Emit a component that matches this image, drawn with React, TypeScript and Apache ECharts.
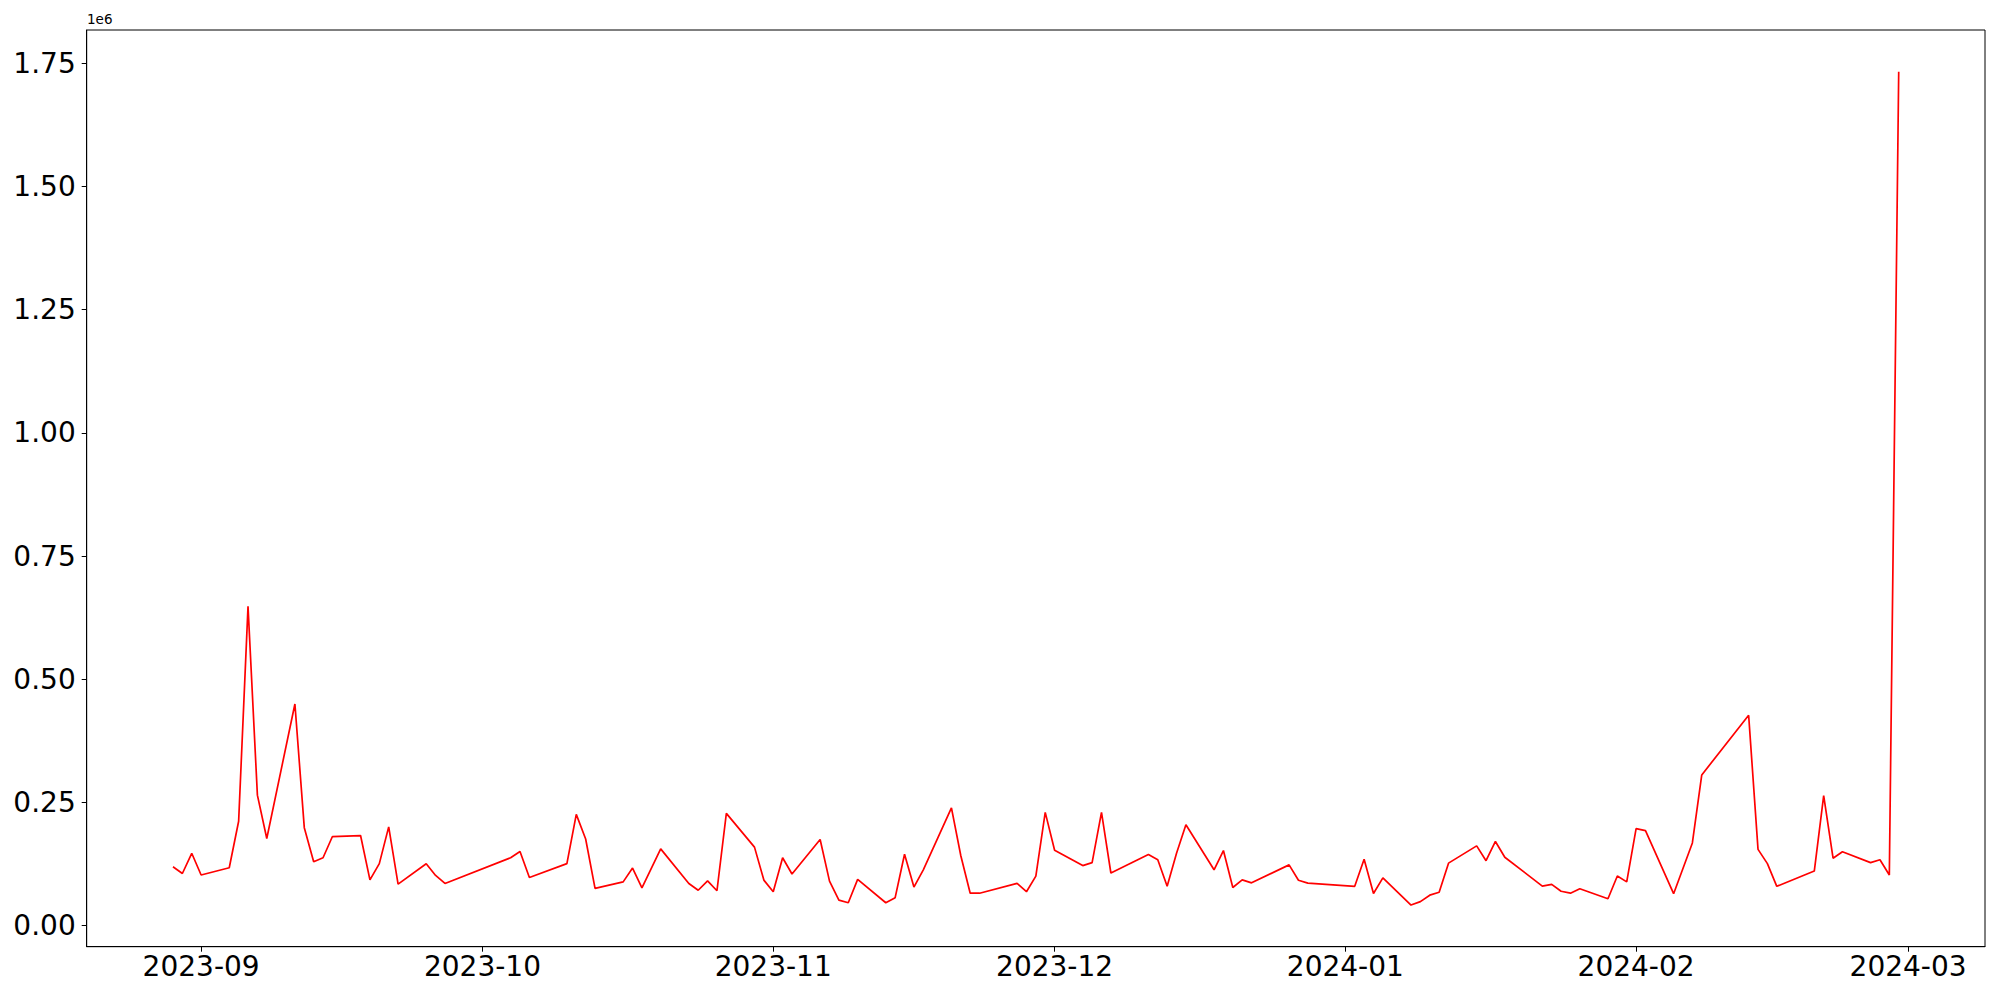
import React, { useEffect, useRef } from "react";
import * as echarts from "echarts";

const dates: string[] = [
  "2023-08-29", "2023-08-30", "2023-08-31", "2023-09-01", "2023-09-04", "2023-09-05", "2023-09-06", "2023-09-07",
  "2023-09-08", "2023-09-11", "2023-09-12", "2023-09-13", "2023-09-14", "2023-09-15", "2023-09-18", "2023-09-19",
  "2023-09-20", "2023-09-21", "2023-09-22", "2023-09-25", "2023-09-26", "2023-09-27", "2023-10-04", "2023-10-05",
  "2023-10-06", "2023-10-10", "2023-10-11", "2023-10-12", "2023-10-13", "2023-10-16", "2023-10-17", "2023-10-18",
  "2023-10-20", "2023-10-23", "2023-10-24", "2023-10-25", "2023-10-26", "2023-10-27", "2023-10-30", "2023-10-31",
  "2023-11-01", "2023-11-02", "2023-11-03", "2023-11-06", "2023-11-07", "2023-11-08", "2023-11-09", "2023-11-10",
  "2023-11-13", "2023-11-14", "2023-11-15", "2023-11-16", "2023-11-17", "2023-11-20", "2023-11-21", "2023-11-22",
  "2023-11-23", "2023-11-27", "2023-11-28", "2023-11-29", "2023-11-30", "2023-12-01", "2023-12-04", "2023-12-05",
  "2023-12-06", "2023-12-07", "2023-12-11", "2023-12-12", "2023-12-13", "2023-12-14", "2023-12-15", "2023-12-18",
  "2023-12-19", "2023-12-20", "2023-12-21", "2023-12-22", "2023-12-26", "2023-12-27", "2023-12-28", "2024-01-02",
  "2024-01-03", "2024-01-04", "2024-01-05", "2024-01-08", "2024-01-09", "2024-01-10", "2024-01-11", "2024-01-12",
  "2024-01-15", "2024-01-16", "2024-01-17", "2024-01-18", "2024-01-22", "2024-01-23", "2024-01-24", "2024-01-25",
  "2024-01-26", "2024-01-29", "2024-01-30", "2024-01-31", "2024-02-01", "2024-02-02", "2024-02-05", "2024-02-07",
  "2024-02-08", "2024-02-13", "2024-02-14", "2024-02-15", "2024-02-16", "2024-02-20", "2024-02-21", "2024-02-22",
  "2024-02-23", "2024-02-26", "2024-02-27", "2024-02-28", "2024-02-29",
];

const values: number[] = [
  119600, 106000, 147000, 103000, 117600, 212000, 648000, 265000,
  177000, 450000, 199000, 130000, 138000, 181000, 183000, 93000,
  126000, 200600, 84500, 125700, 102000, 85800, 138000, 150600,
  98000, 126000, 226000, 176000, 75700, 89000, 117000, 77000,
  156000, 85800, 72000, 91000, 71000, 228000, 159500, 92600,
  69000, 138000, 105000, 175000, 90500, 52000, 46600, 94000,
  46600, 57000, 145000, 78500, 113500, 239000, 142000, 66000,
  66000, 85800, 69000, 100600, 230000, 153000, 122000, 128000,
  230000, 107000, 144500, 134000, 80000, 147000, 205000, 113500,
  152600, 77600, 93000, 87000, 123500, 92300, 86500, 80000,
  135000, 65500, 97000, 42000, 49000, 62000, 68000, 127000,
  162000, 132000, 171000, 139000, 80500, 84000, 70000, 66000,
  75000, 54700, 101000, 89000, 197000, 193000, 65000, 168000,
  306000, 427000, 155000, 126000, 80000, 111000, 264000, 137000,
  150000, 128000, 134000, 103000, 1733000,
];

const xTickLabels: string[] = ["2023-09", "2023-10", "2023-11", "2023-12", "2024-01", "2024-02", "2024-03"];
const yTickValues: number[] = [0, 0.25, 0.5, 0.75, 1.0, 1.25, 1.5, 1.75];
const yScaleLabel = "1e6";
const yScale = 1e6;

const toTs = (s: string) => {
  const [y, m, d] = s.split("-").map(Number);
  return Date.UTC(y, m - 1, d || 1);
};

const fmtMonth = (v: number) => {
  const d = new Date(v);
  const m = d.getUTCMonth() + 1;
  return `${d.getUTCFullYear()}-${m < 10 ? "0" + m : m}`;
};

export default function App() {
  const ref = useRef<HTMLDivElement>(null);
  useEffect(() => {
    if (!ref.current) return;
    const chart = echarts.init(ref.current, undefined, { renderer: "svg" });
    const ts = dates.map(toTs);
    const xMinD = Math.min(...ts);
    const xMaxD = Math.max(...ts);
    const xSpan = xMaxD - xMinD;
    const yMinD = Math.min(...values);
    const yMaxD = Math.max(...values);
    const ySpan = yMaxD - yMinD;
    const font = "DejaVu Sans";
    chart.setOption({
      animation: false,
      backgroundColor: "#ffffff",
      grid: {
        left: 86.7,
        right: 15,
        top: 30,
        bottom: 53.3,
        show: true,
        borderColor: "#000000",
        borderWidth: 1,
        backgroundColor: "transparent",
        containLabel: false,
      },
      xAxis: {
        type: "value",
        min: xMinD - 0.05 * xSpan,
        max: xMaxD + 0.05 * xSpan,
        splitLine: { show: false },
        axisLine: { show: true, onZero: false, lineStyle: { color: "#000", width: 1 } },
        axisTick: {
          show: true,
          length: 5,
          lineStyle: { color: "#000", width: 1 },
          customValues: xTickLabels.map(toTs),
        },
        axisLabel: {
          customValues: xTickLabels.map(toTs),
          formatter: (v: number) => fmtMonth(v),
          fontSize: 28,
          fontFamily: font,
          color: "#000",
          margin: 6,
        },
      },
      yAxis: {
        type: "value",
        min: yMinD - 0.05 * ySpan,
        max: yMaxD + 0.05 * ySpan,
        splitLine: { show: false },
        axisLine: { show: true, onZero: false, lineStyle: { color: "#000", width: 1 } },
        axisTick: {
          show: true,
          length: 5,
          lineStyle: { color: "#000", width: 1 },
          customValues: yTickValues.map((v) => v * yScale),
        },
        axisLabel: {
          customValues: yTickValues.map((v) => v * yScale),
          formatter: (v: number) => (v / yScale).toFixed(2),
          fontSize: 28,
          fontFamily: font,
          color: "#000",
          margin: 11,
        },
      },
      graphic: [
        {
          type: "text",
          left: 87,
          top: 12,
          style: { text: yScaleLabel, fontSize: 13.5, fontFamily: font, fill: "#000" },
        },
      ],
      series: [
        {
          type: "line",
          data: ts.map((t, i) => [t, values[i]]),
          showSymbol: false,
          symbol: "none",
          lineStyle: { color: "#ff0000", width: 1.7 },
          itemStyle: { color: "#ff0000" },
        },
      ],
    });
    return () => chart.dispose();
  }, []);
  return (
    <div
      ref={ref}
      style={{ position: "fixed", left: 0, top: 0, width: 2000, height: 1000 }}
    />
  );
}
